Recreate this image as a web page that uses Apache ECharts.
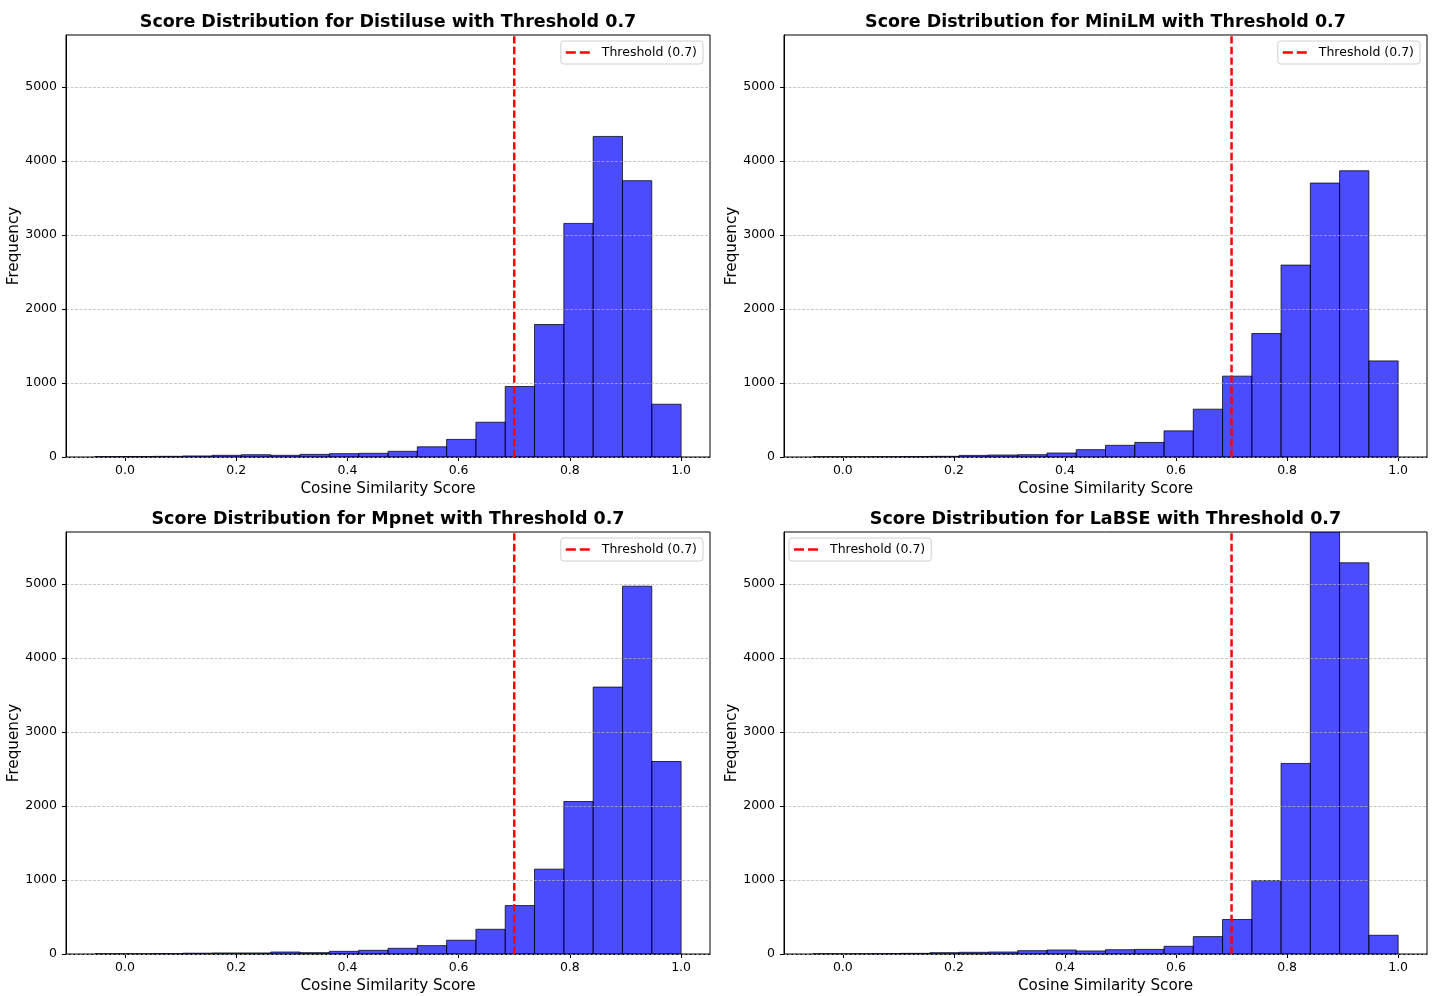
<!DOCTYPE html>
<html>
<head>
<meta charset="utf-8">
<script src="https://cdn.jsdelivr.net/npm/echarts@6/dist/echarts.min.js"></script>
<style>html,body{margin:0;padding:0;background:#fff}#c{width:1437px;height:996px}</style>
</head>
<body>
<div id="c"></div>
<script>
// Bin edges (Cosine Similarity Score)
const binEdges = [-0.054, -0.0013, 0.0514, 0.1041, 0.1568, 0.2095, 0.2622, 0.3149, 0.3676, 0.4203, 0.473, 0.5257, 0.5784, 0.6311, 0.6838, 0.7365, 0.7892, 0.8419, 0.8946, 0.9473, 1.0];
// Frequencies per bin
const distiluse = [5, 7, 9, 14, 23, 31, 23, 36, 45, 50, 77, 138, 238, 470, 952, 1790, 3155, 4330, 3732, 713];
const miniLM    = [2, 2, 4, 7, 9, 22, 27, 31, 54, 99, 158, 197, 353, 646, 1092, 1668, 2592, 3700, 3866, 1298];
const mpnet     = [2, 2, 5, 11, 14, 14, 27, 18, 36, 50, 77, 113, 186, 334, 654, 1146, 2060, 3605, 4968, 2600];
const labse     = [2, 2, 5, 9, 18, 23, 27, 45, 54, 41, 58, 62, 104, 235, 466, 992, 2574, 5700, 5284, 253];
const modelNames = ['Distiluse', 'MiniLM', 'Mpnet', 'LaBSE'];
const threshold = 0.7;
const xTicks = [0.0, 0.2, 0.4, 0.6, 0.8, 1.0];
const yTicks = [0, 1000, 2000, 3000, 4000, 5000];
const xMin = -0.106, xMax = 1.052, yMax = 5700;

const allCounts = [distiluse, miniLM, mpnet, labse];
const grids = [
  {left: 66, top: 35, width: 644, height: 422},
  {left: 784, top: 35, width: 643, height: 422},
  {left: 66, top: 532, width: 644, height: 422},
  {left: 784, top: 532, width: 643, height: 422}
];
const FONT = '"DejaVu Sans", sans-serif';
const legendName = 'Threshold (0.7)';

const option = {
  animation: false,
  backgroundColor: '#fff',
  textStyle: {fontFamily: FONT},
  grid: grids.map(g => Object.assign({show: true, borderColor: '#000', borderWidth: 1, backgroundColor: 'transparent', containLabel: false}, g)),
  xAxis: grids.map((g, i) => ({
    type: 'value', gridIndex: i, min: xMin, max: xMax,
    name: 'Cosine Similarity Score', nameLocation: 'middle', nameGap: 25,
    nameTextStyle: {fontSize: 15.2, color: '#000', fontFamily: FONT},
    axisLine: {show: true, onZero: false, lineStyle: {color: '#000', width: 1}},
    axisTick: {show: true, length: 4, lineStyle: {color: '#000'}, customValues: xTicks},
    axisLabel: {show: true, customValues: xTicks, margin: 7, fontSize: 12.5, color: '#000', fontFamily: FONT, formatter: v => Number(v).toFixed(1)},
    splitLine: {show: false}
  })),
  yAxis: grids.map((g, i) => ({
    type: 'value', gridIndex: i, min: 0, max: yMax, interval: 1000, z: 3,
    name: 'Frequency', nameLocation: 'middle', nameGap: 43,
    nameTextStyle: {fontSize: 15.2, color: '#000', fontFamily: FONT},
    axisLine: {show: true, onZero: false, lineStyle: {color: '#000', width: 1}},
    axisTick: {show: true, length: 4, lineStyle: {color: '#000'}, customValues: yTicks},
    axisLabel: {show: true, customValues: yTicks, margin: 9, fontSize: 12.5, color: '#000', fontFamily: FONT, formatter: v => String(Math.round(v))},
    splitLine: {show: true, lineStyle: {color: 'rgba(176,176,176,0.7)', width: 1, type: [3, 1.5]}}
  })),
  legend: [
    {right: 1437 - 703, top: 41},
    {right: 1437 - 1420, top: 41},
    {right: 1437 - 703, top: 538},
    {left: 789, top: 538}
  ].map(p => Object.assign({
    data: [{name: legendName, icon: 'path://M0,0H10V2.5H0Z M14,0H24V2.5H14Z'}],
    orient: 'horizontal', itemWidth: 24, itemHeight: 2.5, symbolKeepAspect: false,
    padding: [5, 6, 5, 5], borderColor: '#d0d0d0', borderWidth: 1, borderRadius: 3,
    backgroundColor: 'rgba(255,255,255,0.8)', selectedMode: false,
    textStyle: {fontSize: 12.5, color: '#000', fontFamily: FONT, padding: [0, 0, 0, 7]}
  }, p)),
  graphic: modelNames.map((m, i) => ({
    type: 'text', z: 10,
    style: {
      text: 'Score Distribution for ' + m + ' with Threshold 0.7',
      x: grids[i].left + grids[i].width / 2, y: grids[i].top - 13,
      textAlign: 'center', textVerticalAlign: 'middle',
      font: 'bold 17.5px ' + FONT, fill: '#000'
    }
  })),
  series: []
};

allCounts.forEach((counts, i) => {
  const data = counts.map((c, k) => [binEdges[k], binEdges[k + 1], c]);
  option.series.push({
    type: 'custom', xAxisIndex: i, yAxisIndex: i, z: 2, clip: true,
    encode: {x: [0, 1], y: 2},
    data: data,
    renderItem: function (params, api) {
      const p0 = api.coord([api.value(0), api.value(2)]);
      const p1 = api.coord([api.value(1), 0]);
      return {
        type: 'rect',
        shape: {x: p0[0], y: p0[1], width: p1[0] - p0[0], height: p1[1] - p0[1]},
        style: {fill: 'rgba(0,0,255,0.7)', stroke: 'rgba(0,0,0,0.75)', lineWidth: 1}
      };
    }
  });
  option.series.push({
    type: 'line', name: legendName, xAxisIndex: i, yAxisIndex: i, z: 5,
    symbol: 'none', silent: true,
    data: [[threshold, 0], [threshold, yMax]],
    lineStyle: {color: '#ff0000', width: 2.5, type: [7.4, 3.2]},
    itemStyle: {color: '#ff0000'}
  });
});

const chart = echarts.init(document.getElementById('c'), null, {renderer: 'canvas'});
chart.setOption(option);
</script>
</body>
</html>
